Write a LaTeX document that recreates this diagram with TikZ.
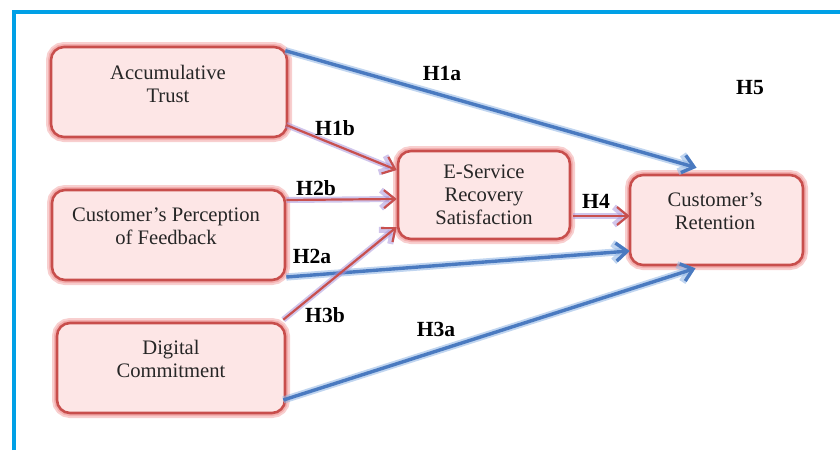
\documentclass[tikz,border=0pt]{standalone}
\usepackage{fontspec}
\setmainfont{Liberation Serif}
\usetikzlibrary{arrows.meta,calc}
\definecolor{frameblue}{RGB}{0,160,230}
\definecolor{boxfill}{RGB}{253,230,230}
\definecolor{boxedge}{RGB}{200,78,76}
\definecolor{boxglow}{RGB}{240,150,150}
\definecolor{linkblue}{RGB}{74,122,192}
\definecolor{blueglow}{RGB}{150,185,230}
\definecolor{linkred}{RGB}{200,80,78}
\definecolor{redglow}{RGB}{170,150,220}
\tikzset{
  construct/.style={draw=boxedge, line width=1.3pt, fill=boxfill,
    rounded corners=6.5pt, inner sep=0pt,
    preaction={draw=boxglow, line width=5pt, opacity=0.45},
    preaction={draw=boxglow, line width=3pt, opacity=0.55}},
  constext/.style={align=center, font=\fontsize{10.3}{11.6}\selectfont,
    text=black!85, inner sep=0pt},
  hyplabel/.style={font=\fontsize{10.8}{12}\selectfont\bfseries, inner sep=0pt},
  bluelink/.style={draw=linkblue, line width=1.7pt,
    -{Straight Barb[length=5.5pt,width=9pt]},
    preaction={draw=blueglow, line width=3.6pt, opacity=0.6,
      -{Straight Barb[length=5.5pt,width=9pt]}}},
  redlink/.style={draw=linkred, line width=1.1pt,
    -{Straight Barb[length=5.5pt,width=9pt]},
    preaction={draw=redglow, line width=3pt, opacity=0.55,
      -{Straight Barb[length=5.5pt,width=9pt]}}},
}
\begin{document}
\begin{tikzpicture}[x=0.5pt,y=-0.5pt]
\useasboundingbox (0,0) rectangle (840,450);
\fill[white] (0,0) rectangle (840,450);

% frame along the top and left edges
\draw[frameblue, line width=2.2pt] (14,450) -- (14,12) -- (840,12);

% constructs
\node[construct, minimum width=118pt, minimum height=45pt] (trust) at (169,92) {};
\node[construct, minimum width=116.5pt, minimum height=45pt] (feedback) at (168.5,235) {};
\node[construct, minimum width=114pt, minimum height=45pt] (commit) at (171,368) {};
\node[construct, minimum width=86pt, minimum height=44pt] (recovery) at (484,195) {};
\node[construct, minimum width=86.5pt, minimum height=45pt] (retention) at (716.5,220) {};

\node[constext] (trustT) at (168,84) {Accumulative\\Trust};
\node[constext] (feedbackT) at (166,226) {Customer’s Perception\\of Feedback};
\node[constext] (commitT) at (171,359) {Digital\\Commitment};
\node[constext] (recoveryT) at (484,195) {E-Service\\Recovery\\Satisfaction};
\node[constext] (retentionT) at (715,211) {Customer’s\\Retention};

% direct effects on retention
\draw[bluelink] ($(trust.north east)+(-3,5)$) -- ($(retention.north)+(-20,-6)$);
\draw[bluelink] ($(feedback.east)+(0,42)$) -- ($(retention.west)+(1,31)$);
\draw[bluelink] ($(commit.east)+(-3,32)$) -- ($(retention.south)+(-21,2)$);

% effects on recovery satisfaction
\draw[redlink] ($(trust.east)+(-2,33)$) -- ($(recovery.west)+(0,-25)$);
\draw[redlink] ($(feedback.east)+(0,-35)$) -- ($(recovery.west)+(0,4)$);
\draw[redlink] ($(commit.north east)+(-3,-2)$) -- ($(recovery.west)+(0,32)$);
\draw[redlink] ($(recovery.east)+(2,21)$) -- ($(retention.west)+(1,-4)$);

% hypothesis labels
\node[hyplabel] (h1a) at (442,73) {H1a};
\node[hyplabel] (h1b) at (335,128) {H1b};
\node[hyplabel] (h2b) at (316,188) {H2b};
\node[hyplabel] (h2a) at (312,256) {H2a};
\node[hyplabel] (h3b) at (325,315) {H3b};
\node[hyplabel] (h3a) at (436,329) {H3a};
\node[hyplabel] (h4) at (596,201) {H4};
\node[hyplabel] (h5) at (750,88) {H5};
\end{tikzpicture}
\end{document}
